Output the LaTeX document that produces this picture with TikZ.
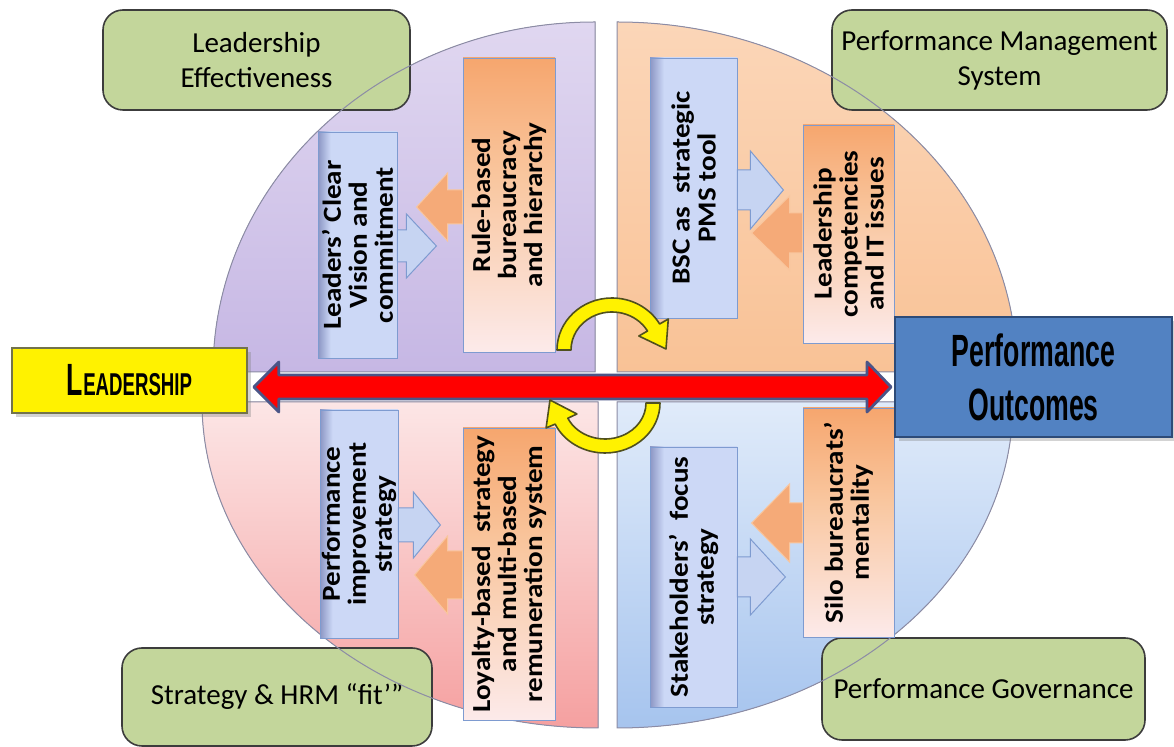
\documentclass[tikz,border=0pt]{standalone}
\usepackage{fontspec}
\setmainfont{Carlito}
\newfontfamily\condfont[FakeStretch=0.59]{Liberation Sans}
\newfontfamily\boxfont[FakeStretch=1.12]{Carlito}
\usetikzlibrary{calc, shadows}
\definecolor{boxgreen}{RGB}{195,214,155}
\definecolor{greenline}{RGB}{60,60,60}
\definecolor{purpletop}{RGB}{224,215,240}
\definecolor{purplebot}{RGB}{198,183,228}
\definecolor{orangetop}{RGB}{251,214,184}
\definecolor{orangebot}{RGB}{249,194,150}
\definecolor{pinktop}{RGB}{252,230,230}
\definecolor{pinkbot}{RGB}{245,160,160}
\definecolor{skytop}{RGB}{224,235,250}
\definecolor{skybot}{RGB}{166,196,238}
\definecolor{quadline}{RGB}{140,140,165}
\definecolor{bbdark}{RGB}{140,150,196}
\definecolor{bblight}{RGB}{204,216,246}
\definecolor{bbline}{RGB}{126,155,208}
\definecolor{obtop}{RGB}{246,166,110}
\definecolor{obmid}{RGB}{249,198,158}
\definecolor{obpale}{RGB}{252,234,234}
\definecolor{arrowblue}{RGB}{198,212,242}
\definecolor{arroworange}{RGB}{245,170,120}
\definecolor{redline}{RGB}{75,85,135}
\definecolor{yellowline}{RGB}{80,80,30}
\definecolor{outcblue}{RGB}{82,130,194}
\definecolor{outcline}{RGB}{45,75,120}

\pgfdeclarehorizontalshading{bluebox}{100bp}{color(0bp)=(bbdark); color(25bp)=(bbdark); color(33bp)=(bblight); color(100bp)=(bblight)}
\pgfdeclareverticalshading{orangebox}{100bp}{color(0bp)=(obpale); color(25bp)=(obpale); color(55bp)=(obmid); color(75bp)=(obtop); color(100bp)=(obtop)}

% style, start node anchor, y centre, shaft length, head length, shaft half, head half, direction
\newcommand{\blockarrow}[8]{%
  \path[#1] ($(#2 |- 0,#3)+(0,-#6)$) -- ++(#8*#4,0) -- ++(0,#6-#7)
    -- ++(#8*#5,#7) -- ++(-#8*#5,#7) -- ++(0,#6-#7) -- ++(-#8*#4,0) -- cycle;}

\begin{document}
\begin{tikzpicture}[x=0.5pt, y=-0.5pt,
    greenbox/.style={draw=greenline, fill=boxgreen, rounded corners=10pt, line width=0.8pt, inner sep=0pt, align=center, font=\fontsize{14.5}{17.5}\selectfont},
    bluebox/.style={draw=bbline, shade, shading=bluebox, inner sep=0pt},
    orangebox/.style={draw=bbline, shade, shading=orangebox, inner sep=0pt},
    boxtext/.style={rotate=90, align=center, inner sep=0pt, font=\boxfont\bfseries\fontsize{13}{13}\selectfont},
    barrow/.style={draw=bbline, fill=arrowblue, line width=0.5pt},
    oarrow/.style={draw=obmid, fill=arroworange, line width=0.5pt},
    quad/.style={draw=quadline, line width=0.5pt},
    titlebox/.style={inner sep=0pt, align=center, drop shadow={shadow xshift=2pt, shadow yshift=-2pt, opacity=0.35}}]
  \useasboundingbox (0,0) rectangle (1174,747);

  \fill[top color=purpletop, bottom color=purplebot] (595,372) -- (595,22) arc[start angle=270, end angle=180, x radius=382, y radius=350] -- cycle;
  \fill[top color=orangetop, bottom color=orangebot] (617,372) -- (617,22) arc[start angle=270, end angle=360, x radius=400, y radius=350] -- cycle;
  \fill[top color=pinktop, bottom color=pinkbot] (598,402) -- (202,402) arc[start angle=180, end angle=90, x radius=396, y radius=326] -- cycle;
  \fill[top color=skytop, bottom color=skybot] (617,402) -- (1013,402) arc[start angle=0, end angle=90, x radius=396, y radius=326] -- cycle;

  \node[greenbox, minimum width=153.5pt, minimum height=50pt] (le) at (256.5,60) {Leadership\\Effectiveness};
  \node[greenbox, minimum width=167.5pt, minimum height=50pt] (pms) at (999.5,60) {Performance Management\\System};
  \node[greenbox, minimum width=155pt, minimum height=49pt] (shf) at (277,697) {Strategy \& HRM “fit’”};
  \node[greenbox, minimum width=161.5pt, minimum height=51pt] (pgv) at (983.5,689) {Performance Governance};

  \draw[quad] (595,372) -- (595,22) arc[start angle=270, end angle=180, x radius=382, y radius=350] -- cycle;
  \draw[quad] (617,372) -- (617,22) arc[start angle=270, end angle=360, x radius=400, y radius=350] -- cycle;
  \draw[quad] (598,402) -- (202,402) arc[start angle=180, end angle=90, x radius=396, y radius=326] -- cycle;
  \draw[quad] (617,402) -- (1013,402) arc[start angle=0, end angle=90, x radius=396, y radius=326] -- cycle;

  \node[bluebox, minimum width=39.5pt, minimum height=113pt, label={[boxtext]center:Leaders’ Clear\\Vision and\\commitment}] (lcv) at (357.5,245) {};
  \node[orangebox, minimum width=46pt, minimum height=147pt, label={[boxtext]center:Rule-based\\bureaucracy\\and hierarchy}] (rbh) at (509,205) {};
  \node[bluebox, minimum width=43.5pt, minimum height=130pt, label={[boxtext]center:BSC as~ strategic\\PMS tool}] (bsc) at (693.5,188) {};
  \node[orangebox, minimum width=45.5pt, minimum height=109pt, label={[boxtext]center:Leadership\\competencies\\and IT issues}] (lci) at (848.5,234) {};
  \node[bluebox, minimum width=39pt, minimum height=114pt, label={[boxtext]center:Performance\\improvement\\strategy}] (pis) at (359,524) {};
  \node[orangebox, minimum width=46pt, minimum height=146pt, label={[boxtext]center:Loyalty-based~ strategy\\and multi-based\\remuneration system}] (lbs) at (509,574) {};
  \node[bluebox, minimum width=43.5pt, minimum height=130pt, label={[boxtext]center:Stakeholders’~ focus\\strategy}] (sfs) at (693.5,577) {};
  \node[orangebox, minimum width=45.5pt, minimum height=114.5pt, label={[boxtext]center:Silo bureaucrats’\\mentality}] (sbm) at (848.5,522.5) {};

  \blockarrow{oarrow}{rbh.west}{207}{15}{31}{17}{34}{-1}
  \blockarrow{barrow}{lcv.east}{246}{9}{30}{16}{32}{1}
  \blockarrow{barrow}{bsc.east}{190}{13}{33}{20}{39}{1}
  \blockarrow{oarrow}{lci.west}{233}{13}{38}{20}{37}{-1}
  \blockarrow{barrow}{pis.east}{525}{15}{27}{17}{33}{1}
  \blockarrow{oarrow}{lbs.west}{575}{15}{33}{24}{39}{-1}
  \blockarrow{oarrow}{sbm.west}{523}{13}{38}{20}{39}{-1}
  \blockarrow{barrow}{sfs.east}{577}{13}{35}{20}{38}{1}

  \node[titlebox, draw=yellowline!80, fill=yellow, line width=0.8pt, minimum width=117.5pt, minimum height=32.5pt,
    font=\condfont\bfseries] (lead) at (129.5,380.5)
    {\fontsize{22.6}{26}\selectfont L\fontsize{15.8}{20}\selectfont EADERSHIP};
  \node[titlebox, draw=outcline, fill=outcblue, line width=1pt, minimum width=138.5pt, minimum height=60pt,
    font=\condfont\bfseries\fontsize{22.6}{27}\selectfont] (outc) at (1033.5,377) {Performance\\Outcomes};

  \path[draw=redline, fill=red, line width=1.4pt, line join=round] ($(lead.east |- 0,387)+(6,0)$) -- ++(25,-25) -- ++(0,13)
    -- ($(outc.west |- 0,375)+(-27,0)$) -- ++(0,-13) -- ++(24,25) -- ++(-24,25) -- ++(0,-13)
    -- ($(lead.east |- 0,399)+(31,0)$) -- ++(0,13) -- cycle;

  \coordinate (ytop) at (612,350);
  \coordinate (ybot) at (605,403);
  \path[draw=yellowline, fill=yellow, line width=0.8pt, line join=round]
    ($(ytop)+(180:55 and 52)$) arc[start angle=180, end angle=330, x radius=55, y radius=52]
    -- ($(ytop)+(330:65 and 62)$) -- (666,349) -- ($(ytop)+(330:31 and 28)$)
    -- ($(ytop)+(330:41 and 38)$) arc[start angle=330, end angle=180, x radius=41, y radius=38] -- cycle;
  \path[draw=yellowline, fill=yellow, line width=0.8pt, line join=round]
    ($(ybot)+(0:55 and 50)$) arc[start angle=0, end angle=155, x radius=55, y radius=50]
    -- ($(ybot)+(155:65 and 59)$) -- (550,400) -- ($(ybot)+(155:31 and 26)$)
    -- ($(ybot)+(155:41 and 36)$) arc[start angle=155, end angle=0, x radius=41, y radius=36] -- cycle;
\end{tikzpicture}
\end{document}
